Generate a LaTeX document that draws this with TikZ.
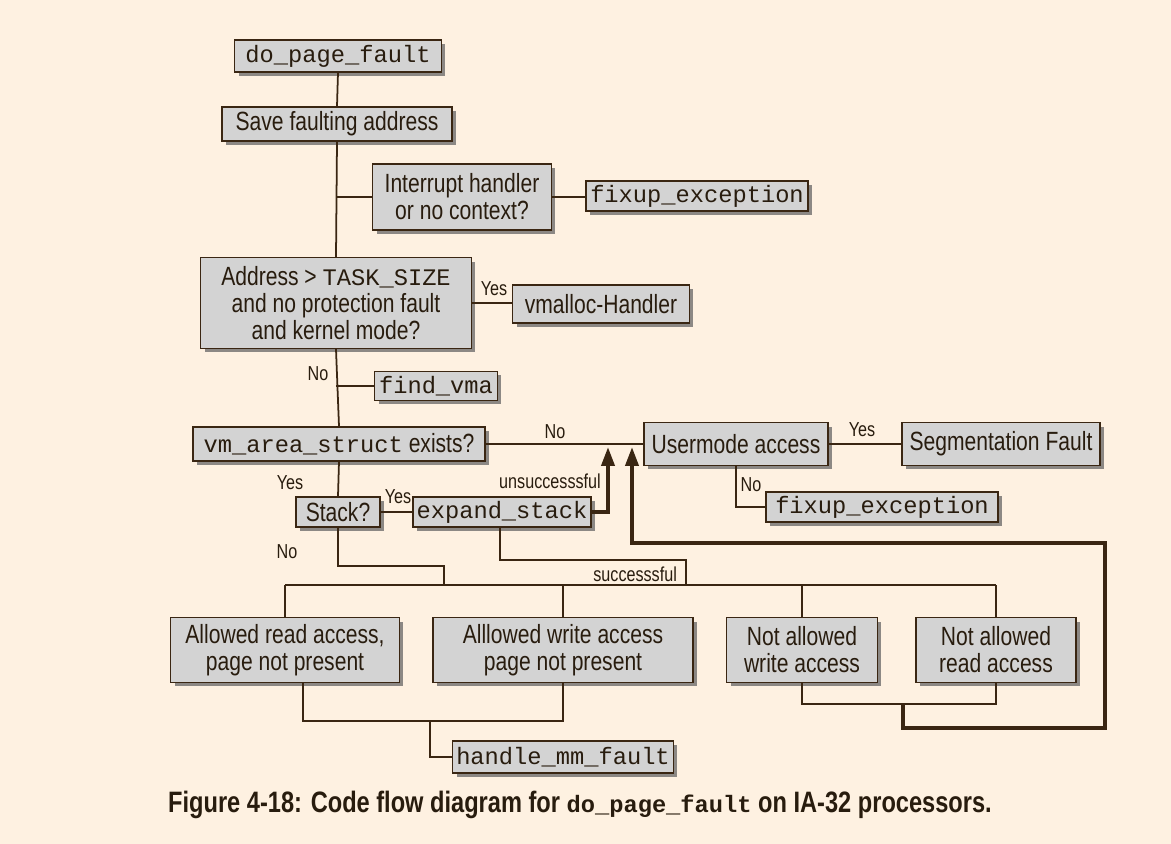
\documentclass[tikz,border=0pt]{standalone}
\usepackage{fontspec}
\setmainfont[FakeStretch=0.8]{Liberation Sans}
\setmonofont{Liberation Mono}
\usepackage{xcolor}
\usetikzlibrary{arrows.meta, shadows}

\definecolor{bgc}{RGB}{254,241,225}
\definecolor{boxc}{RGB}{211,211,211}
\definecolor{lnc}{RGB}{58,38,18}
\definecolor{txc}{RGB}{40,28,14}
\definecolor{shc}{RGB}{140,136,132}

\tikzset{
    box/.style={draw=lnc, fill=boxc, line width=0.8pt, inner sep=2pt, align=center, text=txc,
        font=\fontsize{15}{15.4}\selectfont,
        drop shadow={shadow xshift=0.08cm, shadow yshift=-0.08cm, fill=shc, opacity=1}},
    code/.style={box, font=\fontsize{13.5}{15}\selectfont\ttfamily},
    lbl/.style={font=\fontsize{11.5}{13}\selectfont, text=txc, inner sep=1pt},
    ln/.style={draw=lnc, line width=1pt},
    bk/.style={draw=lnc, line width=2.2pt},
    tip/.style={-{Triangle[length=0.38cm, width=0.26cm]}},
}

\begin{document}
\begin{tikzpicture}[x=0.02cm, y=-0.02cm]
    \useasboundingbox[fill=bgc] (0,0) rectangle (1171,844);

    % main column
    \node[code, minimum width=4.14cm, minimum height=0.64cm] (dpf) at (338,56) {do\_page\_fault};
    \node[box, minimum width=4.6cm, minimum height=0.68cm] (save) at (337,124) {Save faulting address};
    \node[box, minimum width=3.58cm, minimum height=1.32cm] (intr) at (462,197) {Interrupt handler\\or no context?};
    \node[code, minimum width=4.44cm, minimum height=0.6cm] (fixa) at (697,196) {fixup\_exception};
    \node[box, minimum width=5.42cm, minimum height=1.82cm] (addr) at (336,303) {Address > \texttt{\fontsize{13.5}{15}\selectfont TASK\_SIZE}\\and no protection fault\\and kernel mode?};
    \node[box, minimum width=3.54cm, minimum height=0.76cm] (vmal) at (601,304) {vmalloc-Handler};
    \node[code, minimum width=2.46cm, minimum height=0.58cm] (fvma) at (436,386) {find\_vma};
    \node[box, minimum width=5.84cm, minimum height=0.68cm] (vmar) at (339,444) {\texttt{\fontsize{13.5}{15}\selectfont vm\_area\_struct} exists?};
    \node[box, minimum width=3.68cm, minimum height=0.86cm] (user) at (736,444) {Usermode access};
    \node[box, minimum width=3.96cm, minimum height=0.86cm] (segv) at (1001,444) {Segmentation Fault};
    \node[code, minimum width=4.64cm, minimum height=0.6cm] (fixb) at (882,507) {fixup\_exception};
    \node[box, minimum width=1.68cm, minimum height=0.6cm] (stack) at (338,512) {Stack?};
    \node[code, minimum width=3.5cm, minimum height=0.6cm] (expd) at (502,512) {expand\_stack};

    % access cases
    \node[box, minimum width=4.58cm, minimum height=1.3cm] (rd) at (285,650) {Allowed read access,\\page not present};
    \node[box, minimum width=5.2cm, minimum height=1.3cm] (wr) at (563,650) {Alllowed write access\\page not present};
    \node[box, minimum width=3.02cm, minimum height=1.3cm] (nwr) at (802,650) {Not allowed\\write access};
    \node[box, minimum width=3.2cm, minimum height=1.3cm] (nrd) at (996,650) {Not allowed\\read access};
    \node[code, minimum width=4.4cm, minimum height=0.64cm] (hmm) at (563,757) {handle\_mm\_fault};

    \node[font=\fontsize{16.8}{18}\selectfont\bfseries, text=txc] (cap) at (580,805)
        {Figure 4-18: Code flow diagram for \texttt{\bfseries\fontsize{13.5}{15}\selectfont do\_page\_fault} on IA-32 processors.};

    % connectors
    \draw[ln] (dpf.south) -- (save.north);
    \draw[ln] (save.south) -- (addr.north);
    \draw[ln] (addr.south) -- (vmar.north);
    \draw[ln] (intr.west) -- (intr.west -| save.south);
    \draw[ln] (intr.east) -- (intr.east -| fixa.west);
    \draw[ln] (addr.east) -- (addr.east -| vmal.west);
    \node[lbl] (yesa) at (494,289) {Yes};
    \draw[ln] (fvma.west) -- (fvma.west -| addr.south);
    \node[lbl] (noa) at (318,374) {No};
    \draw[ln] (vmar.east) -- (user.west);
    \node[lbl] (nob) at (555,432) {No};
    \draw[ln] (user.east) -- (segv.west);
    \node[lbl] (yesb) at (862,430) {Yes};
    \draw[ln] (user.south) |- (fixb.west);
    \node[lbl] (noc) at (751,485) {No};
    \draw[ln] (vmar.south) -- (stack.north);
    \node[lbl] (yesc) at (290,483) {Yes};
    \draw[ln] (stack.east) -- (expd.west);
    \node[lbl] (yesd) at (398,497) {Yes};

    % back to usermode check
    \coordinate (ua) at (608,447);
    \coordinate (ub) at (632,447);
    \draw[bk, tip] (expd.east) -| (ua);
    \node[lbl] (uns) at (550,481) {unsuccesssful};

    % fan out
    \coordinate (bar) at (444,585);
    \coordinate (sc) at (686,585);
    \draw[ln] (stack.south) -- (338,566) -| (bar);
    \node[lbl] (nod) at (287,552) {No};
    \draw[ln] ([xshift=-0.04cm]expd.south) -- (500,560) -| (sc);
    \node[lbl, anchor=east] (succ) at (679,574) {successsful};
    \draw[ln] (rd.north |- bar) -- (nrd.north |- bar);
    \foreach \n in {rd,wr,nwr,nrd}
        \draw[ln] (\n.north) -- (\n.north |- bar);

    % merges
    \coordinate (ma) at (430,721);
    \draw[ln] ([xshift=0.36cm]rd.south) |- (ma) -| (wr.south);
    \draw[ln] (ma) |- (hmm.west);
    \coordinate (mb) at (903,704);
    \draw[ln] (nwr.south) |- (mb) -| (nrd.south);
    \draw[bk, tip] (mb) -- (903,728) -| (1105,543) -| (ub);
\end{tikzpicture}
\end{document}
